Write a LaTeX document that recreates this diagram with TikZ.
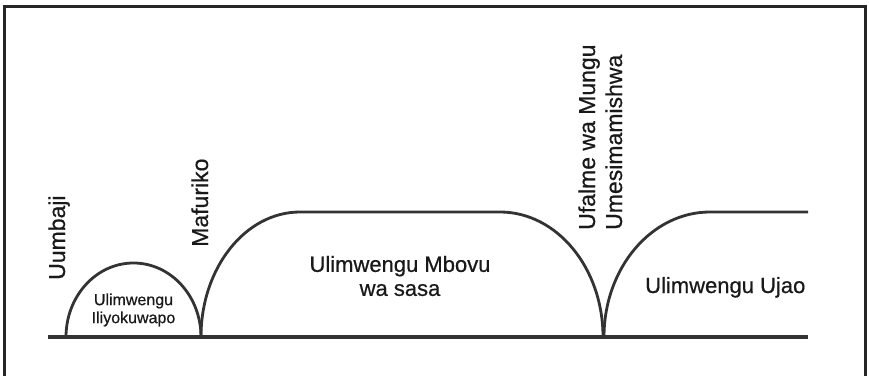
\documentclass[tikz,border=0pt]{standalone}
\usepackage{fontspec}
\setmainfont{Liberation Sans}[FakeBold=0.6,AutoFakeBold=0.6]
\tikzset{
  era/.style={line width=2.8pt, draw=black!80},
  mark label/.style={rotate=90, anchor=base west, inner sep=0pt, text=black!90, font=\fontsize{23}{26}\selectfont\bfseries},
  era label/.style={align=center, text=black!90, font=\fontsize{22}{24}\selectfont\bfseries}
}
\begin{document}
\begin{tikzpicture}[x=1pt,y=1pt]
                \useasboundingbox (0,0) rectangle (869,375);
                \draw[line width=3pt, black!85] (4,-10) rectangle (865,368);
                \draw[line width=4pt, black!80] (48,38) -- (808,38);
                % ages
                \draw[era] (66,38) arc[start angle=180, end angle=0, x radius=67.5, y radius=74];
                \draw[era] (201,38) arc[start angle=180, end angle=90, x radius=99, y radius=125]
                    -- (500,163) arc[start angle=90, end angle=0, x radius=103, y radius=125];
                \draw[era] (604,38) arc[start angle=180, end angle=90, x radius=106, y radius=125] -- (808,163);
                % labels
                \node[mark label] (uumbaji) at (65,95) {Uumbaji};
                \node[mark label] (mafuriko) at (208,128) {Mafuriko};
                \node[mark label] (ufalme) at (595,145) {Ufalme wa Mungu};
                \node[mark label] (umesimamishwa) at (622,145) {Umesimamishwa};
                \node[era label, font=\fontsize{16}{18}\selectfont\bfseries] (zamani) at (133.5,65) {Ulimwengu\\Iliyokuwapo};
                \node[era label] (sasa) at (400,99) {Ulimwengu Mbovu\\wa sasa};
                \node[era label, anchor=base west, inner sep=0pt] (ujao) at (645,82) {Ulimwengu Ujao};
            \end{tikzpicture}
\end{document}
